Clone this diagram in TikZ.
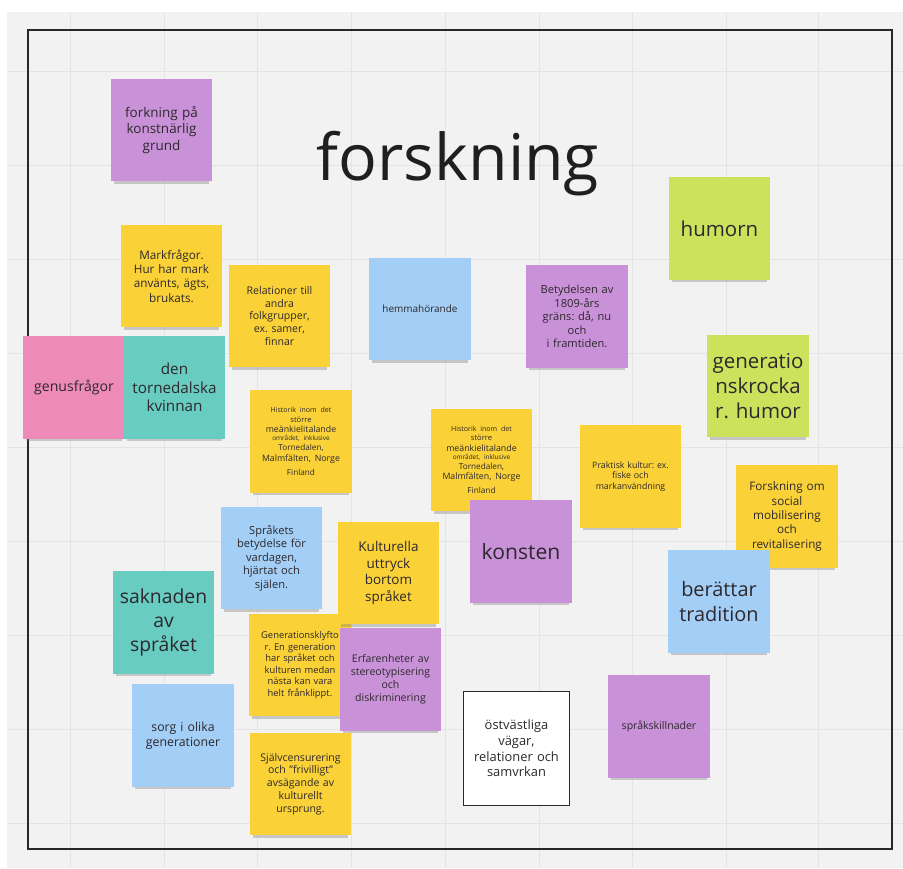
\documentclass[tikz,border=0pt]{standalone}
\usepackage{fontspec}
\setmainfont{Open Sans}
\usetikzlibrary{shadows}
\definecolor{board}{RGB}{242,242,242}
\definecolor{gridln}{RGB}{228,228,228}
\definecolor{frameln}{RGB}{40,40,40}
\definecolor{noteyellow}{RGB}{250,209,55}
\definecolor{notepurple}{RGB}{201,146,216}
\definecolor{noteblue}{RGB}{163,206,245}
\definecolor{notegreen}{RGB}{205,226,92}
\definecolor{noteteal}{RGB}{104,204,193}
\definecolor{notepink}{RGB}{238,138,184}
\definecolor{inktxt}{RGB}{45,40,45}
\frenchspacing
\newcommand{\fs}[1]{\fontsize{#1}{1.22\dimexpr#1pt\relax}\selectfont}
\tikzset{
  note/.style={minimum width=3.05cm,minimum height=3.08cm,text width=2.9cm,
               align=center,inner sep=0pt,text=inktxt,
               drop shadow={shadow xshift=0pt,shadow yshift=-5pt,shadow scale=0.94,opacity=0.38}},
  yel/.style={note,fill=noteyellow},
  pur/.style={note,fill=notepurple},
  blu/.style={note,fill=noteblue},
  grn/.style={note,fill=notegreen},
  tea/.style={note,fill=noteteal},
  pnk/.style={note,fill=notepink},
  plain/.style={draw=frameln,thick,fill=white,minimum width=3.2cm,minimum height=3.4cm,
                text width=3.1cm,align=center,inner sep=0pt,text=inktxt}
}
\begin{document}
\begin{tikzpicture}[x=0.03cm,y=-0.03cm]
    \useasboundingbox (0,0) rectangle (903,868);
    % --- board and grid
    \fill[board] (7,12) rectangle (903,868);
    \foreach \gx in {70,164,257,351,445,539,632,726,818}
      \draw[gridln] (\gx,12)--(\gx,868);
    \foreach \gy in {71,165,259,353,447,541,635,729,823}
      \draw[gridln] (7,\gy)--(903,\gy);
    \draw[frameln,line width=1.2pt] (28,30) rectangle (892,849);
    % --- title
    \node[text=black!88,font=\fs{55}] (title) at (458,164) {forskning};
    % --- top row
    \node[pur,font=\fs{11.5}] (konstn) at (161.5,130) {forkning på\\konstnärlig\\grund};
    \node[grn,font=\fs{17.5}] (humor) at (719.5,228.5) {humorn};
    \node[yel,font=\fs{10}] (mark) at (171.5,276) {Markfrågor.\\Hur har mark\\använts, ägts,\\brukats.};
    \node[yel,font=\fs{9}] (relat) at (279.5,316) {Relationer till\\andra\\folkgrupper,\\ex. samer,\\finnar};
    \node[blu,font=\fs{8.5}] (hemma) at (420,309) {hemmahörande};
    \node[pur,font=\fs{9.5}] (grans) at (577,316.5) {Betydelsen av\\1809-års\\gräns: då, nu\\och\\i framtiden.};
    \node[grn,font=\fs{17.5}] (krock) at (758,386) {generatio\\nskrocka\\r. humor};
    \node[pnk,font=\fs{12}] (genus) at (74,387.5) {genusfrågor};
    \node[tea,font=\fs{13}] (kvinna) at (174.5,387.5) {den\\tornedalska\\kvinnan};
    % --- middle
    \node[yel] (hist1) at (301,441.5) {\fs{6}Historik inom det\\\fs{6.5}större\\\fs{7.5}meänkielitalande\\\fs{5.5}området, inklusive\\\fs{7}Tornedalen,\\\fs{7.5}Malmfälten, Norge\\\fs{7}Finland};
    \node[yel] (hist2) at (481.5,460) {\fs{6}Historik inom det\\\fs{6.5}större\\\fs{7.5}meänkielitalande\\\fs{5.5}området, inklusive\\\fs{7}Tornedalen,\\\fs{7.5}Malmfälten, Norge\\\fs{7}Finland};
    \node[yel,font=\fs{7.5}] (prakt) at (630.5,476.5) {Praktisk kultur: ex.\\fiske och\\markanvändning};
    \node[yel,font=\fs{10}] (mobil) at (787,516.5) {Forskning om\\social\\mobilisering\\och\\revitalisering};
    \node[blu,font=\fs{9.5}] (sprak) at (271.5,558) {Språkets\\betydelse för\\vardagen,\\hjärtat och\\själen.};
    \node[pur,font=\fs{18}] (konst) at (521,551.5) {konsten};
    \node[blu,font=\fs{17}] (berat) at (719,601.5) {berättar\\tradition};
    \node[tea,font=\fs{16.5}] (saknad) at (163.5,622.5) {saknaden\\av\\språket};
    % --- lower group, overlapping notes
    \node[yel,font=\fs{8}] (klyft) at (300,665) {Generationsklyfto\\r. En generation\\har språket och\\kulturen medan\\nästa kan vara\\helt frånklippt.};
    \node[yel,font=\fs{11.5}] (kultur) at (388.5,573) {Kulturella\\uttryck\\bortom\\språket};
    \node[pur,font=\fs{9}] (erfar) at (390.5,679.5) {Erfarenheter av\\stereotypisering\\och\\diskriminering};
    \node[blu,font=\fs{10.5}] (sorg) at (183,735.5) {sorg i olika\\generationer};
    \node[yel,font=\fs{9}] (censur) at (300.5,784) {Självcensurering\\och ”frivilligt”\\avsägande av\\kulturellt\\ursprung.};
    \node[plain,font=\fs{11}] (ostvast) at (516.5,748.5) {östvästliga\\vägar,\\relationer och\\samvrkan};
    \node[pur,font=\fs{9}] (skilln) at (659,726.5) {språkskillnader};
\end{tikzpicture}
\end{document}
